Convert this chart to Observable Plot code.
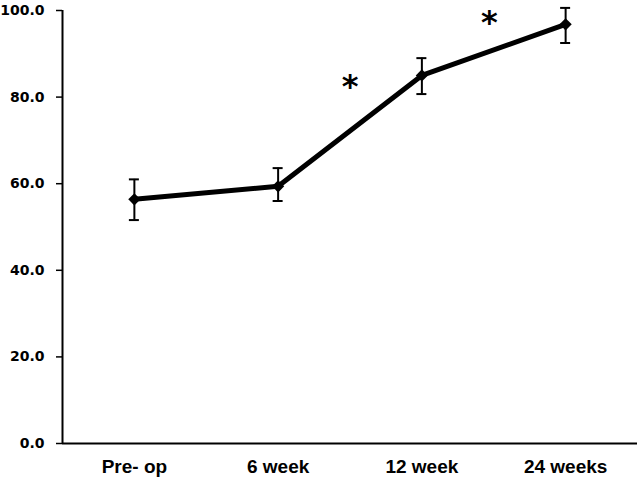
<!DOCTYPE html>
<html>
<head>
<meta charset="utf-8">
<script src="https://cdn.jsdelivr.net/npm/d3@7"></script>
<script src="https://cdn.jsdelivr.net/npm/@observablehq/plot@0.6"></script>
<style>
  html, body { margin: 0; padding: 0; background: #fff; }
</style>
</head>
<body>
<div id="chart"></div>
<script>
const categories = ["Pre- op", "6 week", "12 week", "24 weeks"];
const means = [56.4, 59.4, 85.0, 96.8];
const lower = [51.6, 56.0, 80.7, 92.5];
const upper = [61.0, 63.6, 89.0, 100.6];
const yTicks = [0, 20, 40, 60, 80, 100];
const starX = [1.5, 2.47];
const starY = [84.2, 99.0];

const data = categories.map((c, i) => ({i, c, m: means[i], lo: lower[i], hi: upper[i]}));
const stars = starX.map((x, k) => ({x, y: starY[k]}));

const chart = Plot.plot({
  width: 637,
  height: 479,
  marginLeft: 62,
  marginRight: 0,
  marginTop: 10,
  marginBottom: 36,
  style: {background: "#fff", color: "#000"},
  x: {domain: [-0.5, 3.5], axis: null},
  y: {domain: [0, 100], axis: null},
  marks: [
    Plot.axisY({ticks: yTicks, tickFormat: d3.format(".1f"), tickSize: 6, tickPadding: 12,
      fontSize: 14, fontWeight: "bold", fontFamily: "DejaVu Sans", strokeWidth: 1.5}),
    Plot.axisX({ticks: [0, 1, 2, 3], tickFormat: i => categories[i], tickSize: 0, tickPadding: 16,
      fontSize: 19, fontWeight: "bold", fontFamily: "Liberation Sans, Arial, sans-serif"}),
    Plot.ruleX([-0.5], {y1: 0, y2: 100, stroke: "#000", strokeWidth: 2}),
    Plot.ruleY([0], {x1: -0.5, x2: 3.5, stroke: "#000", strokeWidth: 2}),
    Plot.ruleX(data, {x: "i", y1: "lo", y2: "hi", stroke: "#000", strokeWidth: 2}),
    Plot.ruleY(data, {y: "lo", x1: "i", x2: "i", insetLeft: -5, insetRight: -5, stroke: "#000", strokeWidth: 2}),
    Plot.ruleY(data, {y: "hi", x1: "i", x2: "i", insetLeft: -5, insetRight: -5, stroke: "#000", strokeWidth: 2}),
    Plot.line(data, {x: "i", y: "m", stroke: "#000", strokeWidth: 5}),
    Plot.dot(data, {x: "i", y: "m", symbol: "diamond2", r: 5.5, fill: "#000", stroke: "none"}),
    Plot.text(stars, {x: "x", y: "y", text: () => "*", fontSize: 32, fontWeight: "bold",
      fontFamily: "DejaVu Sans", fill: "#000", dy: 8})
  ]
});
document.getElementById("chart").appendChild(chart);
</script>
</body>
</html>
